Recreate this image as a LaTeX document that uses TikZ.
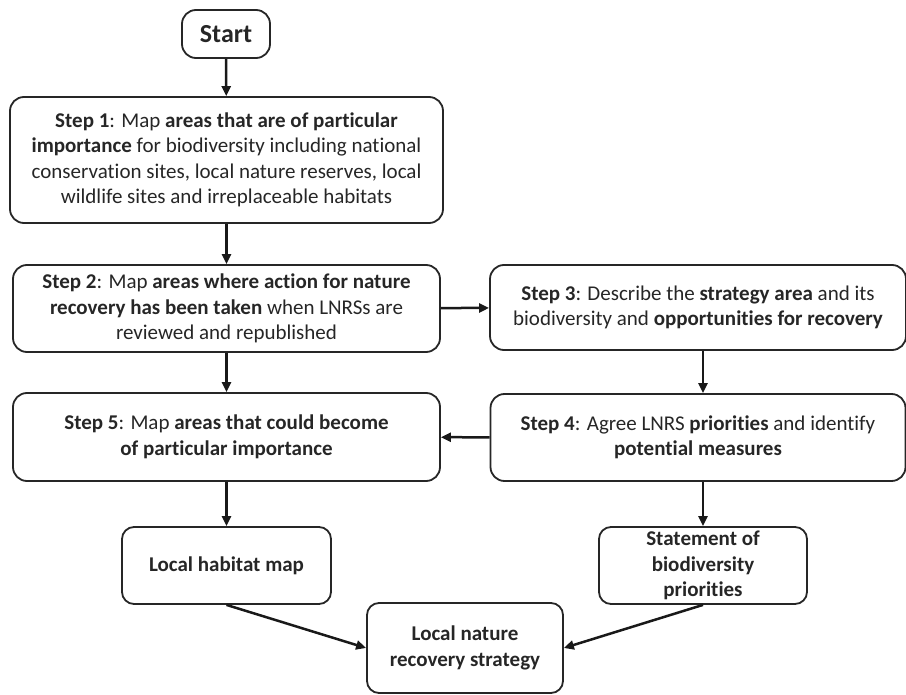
\documentclass[tikz,border=0pt]{standalone}
\usepackage{fontspec}
\setmainfont{Carlito}[Ligatures=NoCommon]
\usetikzlibrary{arrows.meta}
\begin{document}
\begin{tikzpicture}[x=1pt,y=-1pt,
  box/.style={draw=black!85,line width=1.8pt,rounded corners=14pt,align=center,
    font=\fontsize{21}{25.5}\selectfont,text=black!85,inner sep=0pt},
  smallbox/.style={box,rounded corners=12pt,font=\fontsize{21}{25.5}\selectfont\bfseries},
  conn/.style={line width=2.5pt,draw=black!90,-{Triangle[length=10pt,width=9pt]}}]
\useasboundingbox (0,0) rectangle (906,695);
\node[box,minimum width=88pt,minimum height=48pt,font=\fontsize{26}{30}\selectfont\bfseries] (start) at (226,34) {Start};
\node[box,minimum width=433pt,minimum height=126pt] (s1) at (226.5,160)
 {\textbf{Step 1}: Map \textbf{areas that are of particular}\\\textbf{importance} for biodiversity including national\\conservation sites, local nature reserves, local\\wildlife sites and irreplaceable habitats};
\node[box,minimum width=427pt,minimum height=87pt] (s2) at (226.5,308.5)
 {\textbf{Step 2}: Map \textbf{areas where action for nature}\\\textbf{recovery has been taken} when LNRSs are\\reviewed and republished};
\node[box,minimum width=416pt,minimum height=85pt] (s3) at (698,307.5)
 {\textbf{Step 3}: Describe the \textbf{strategy area} and its\\biodiversity and \textbf{opportunities for recovery}};
\node[box,minimum width=415pt,minimum height=87pt] (s4) at (698,437.5)
 {\textbf{Step 4}: Agree LNRS \textbf{priorities} and identify\\\textbf{potential measures}};
\node[box,minimum width=427pt,minimum height=88pt] (s5) at (226.5,437)
 {\textbf{Step 5}: Map \textbf{areas that could become}\\\textbf{of particular importance}};
\node[smallbox,minimum width=209pt,minimum height=77pt] (hab) at (226.5,565.5) {Local habitat map};
\node[smallbox,minimum width=208pt,minimum height=77pt] (stm) at (703,565.5) {Statement of\\biodiversity\\priorities};
\node[smallbox,minimum width=196pt,minimum height=90pt] (lnrs) at (465,648) {Local nature\\recovery strategy};
\draw[conn] (start) -- (s1);
\draw[conn] (s1) -- (s2);
\draw[conn] (s2) -- (s3);
\draw[conn] (s3.south -| stm.north) -- (s4.north -| stm.north);
\draw[conn] (s4) -- (s5);
\draw[conn] (s2) -- (s5);
\draw[conn] (s5) -- (hab);
\draw[conn] (s4.south -| stm.north) -- (stm.north);
\draw[conn] (hab.south) -- (lnrs.west);
\draw[conn] (stm.south) -- (lnrs.east);
\end{tikzpicture}
\end{document}
